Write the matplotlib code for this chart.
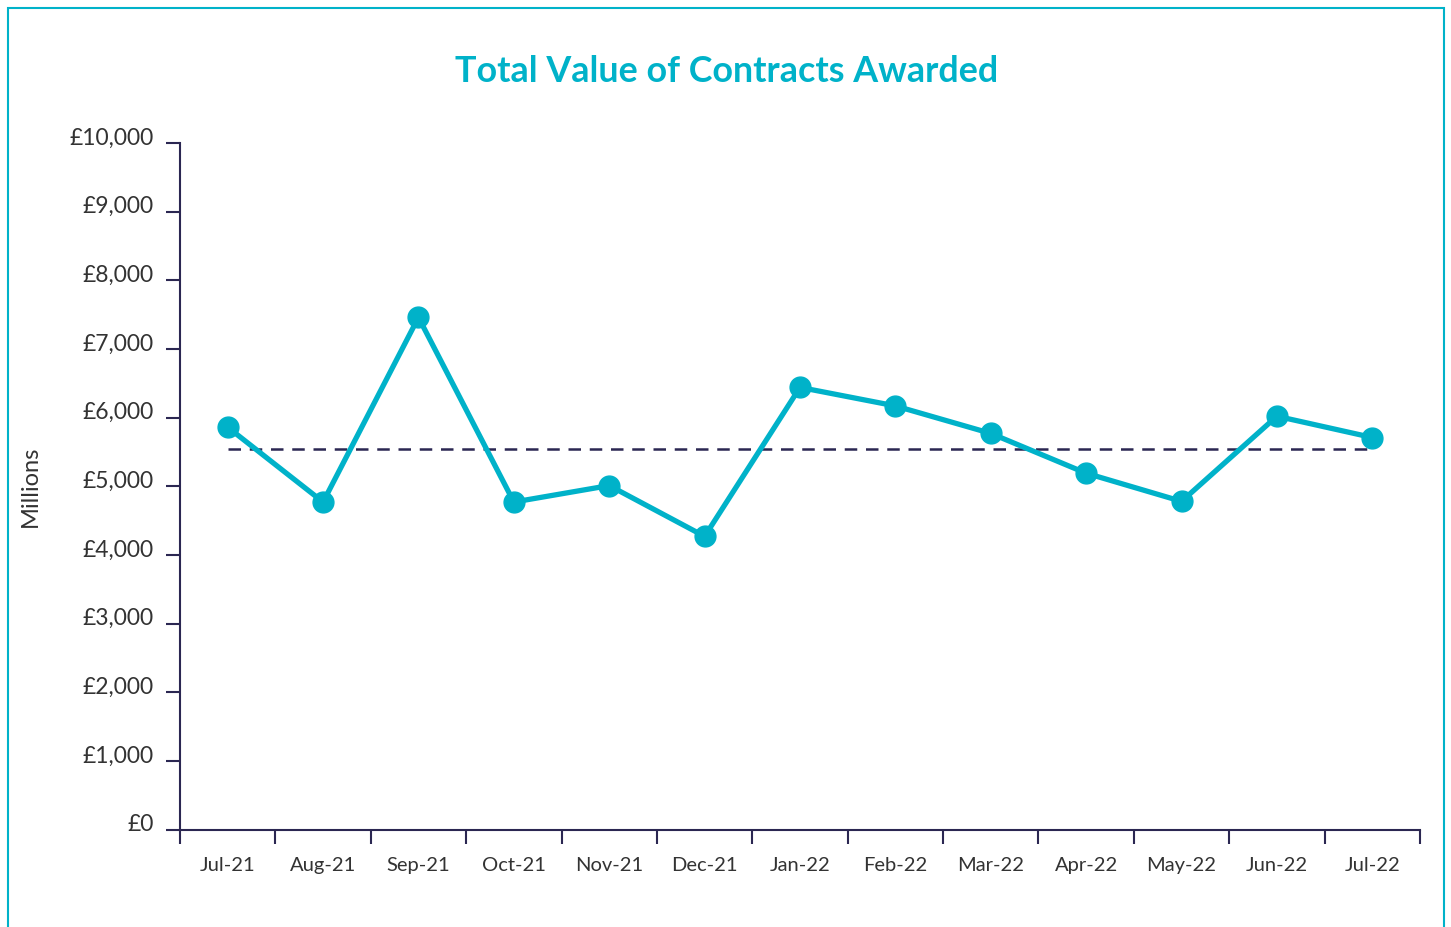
import matplotlib
matplotlib.use("Agg")
import matplotlib.pyplot as plt
import matplotlib.transforms as mtransforms
from matplotlib.patches import Rectangle
from matplotlib.ticker import FuncFormatter, FixedLocator

months = ["Jul-21", "Aug-21", "Sep-21", "Oct-21", "Nov-21", "Dec-21", "Jan-22",
          "Feb-22", "Mar-22", "Apr-22", "May-22", "Jun-22", "Jul-22"]
values = [5860, 4770, 7460, 4770, 5010, 4270, 6440, 6170, 5770, 5190, 4780, 6020, 5710]
average = 5540
yticks = list(range(0, 10001, 1000))

plt.rcParams['font.family'] = ['Lato', 'DejaVu Sans']

CYAN = "#00b2c9"
NAVY = "#2b2752"
TXT = "#333333"

fig = plt.figure(figsize=(14.51, 9.27), dpi=100)
fig.patch.set_facecolor("white")
fig.patches.append(Rectangle((8/1451, -0.05), (1444-8)/1451, 1.05 - 8/927,
                             transform=fig.transFigure, fill=False,
                             edgecolor=CYAN, linewidth=1.5))

ax = fig.add_axes([180/1451, 1-829.5/927, (1420-180)/1451, (829.5-143)/927])
x = list(range(len(months)))
ax.plot(x, values, color=CYAN, linewidth=3.8, marker='o', markersize=15,
        markerfacecolor=CYAN, markeredgecolor=CYAN, zorder=3)
ax.plot([x[0], x[-1]], [average, average], color=NAVY, linewidth=1.8,
        linestyle=(0, (5, 3.5)), zorder=2)

ax.set_xlim(-0.5, len(months) - 0.5)
ax.set_ylim(0, 10000)
ax.set_yticks(yticks)
ax.yaxis.set_major_formatter(FuncFormatter(lambda v, p: "£{:,.0f}".format(v)))

ax.set_xticks(x)
ax.set_xticklabels(months)
ax.xaxis.set_minor_locator(FixedLocator([i - 0.5 for i in range(len(months) + 1)]))
ax.tick_params(axis='x', which='major', length=0, pad=20, labelsize=14.5, labelcolor=TXT)
ax.tick_params(axis='x', which='minor', length=10, width=1.5, color=NAVY, direction='out')
ax.tick_params(axis='y', length=10, width=1.5, color=NAVY, pad=9, labelsize=16.5, labelcolor=TXT)

offset = mtransforms.ScaledTranslation(0, 7/100, fig.dpi_scale_trans)
for lab in ax.get_yticklabels():
    lab.set_transform(lab.get_transform() + offset)

for s in ['top', 'right']:
    ax.spines[s].set_visible(False)
for s in ['left', 'bottom']:
    ax.spines[s].set_color(NAVY)
    ax.spines[s].set_linewidth(1.5)

fig.text(727/1451, 1-72/927, "Total Value of Contracts Awarded", ha='center', va='center',
         fontsize=25.8, fontweight='bold', color=CYAN)
fig.text(30/1451, 1-486/927, "Millions", rotation=90, ha='center', va='center',
         fontsize=17, color=TXT)

fig.savefig("out.png", dpi=100, facecolor="white")
